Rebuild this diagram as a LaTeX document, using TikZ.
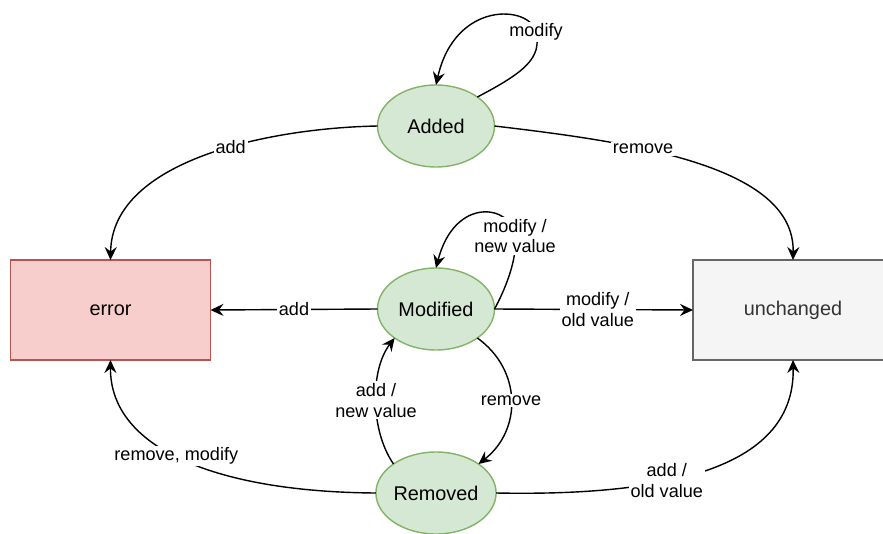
\documentclass[tikz,border=0pt]{standalone}
\usepackage{fontspec}
\setmainfont{Liberation Sans}
\usetikzlibrary{arrows.meta, shapes.geometric}

\definecolor{stategreen}{HTML}{D5E8D4}
\definecolor{stategreenline}{HTML}{82B366}
\definecolor{errorred}{HTML}{F8CECC}
\definecolor{errorredline}{HTML}{B85450}
\definecolor{restgray}{HTML}{F5F5F5}
\definecolor{restgrayline}{HTML}{666666}
\definecolor{resttext}{HTML}{333333}

\begin{document}
\begin{tikzpicture}[x=0.02cm, y=-0.02cm,
        state/.style={ellipse, draw=stategreenline, fill=stategreen, line width=0.8pt, minimum width=2.34cm, minimum height=1.64cm, inner sep=0pt, outer sep=0pt, font=\fontsize{11.3}{13.4}\selectfont},
        result/.style={rectangle, line width=0.8pt, minimum width=4cm, minimum height=2cm, inner sep=0pt, outer sep=0pt, font=\fontsize{11.3}{13.4}\selectfont},
        arrow/.style={-{Stealth[length=2.6mm, width=2.4mm, inset=0.9mm]}, line width=0.8pt},
        edgelabel/.style={fill=white, inner sep=1pt, align=center, font=\fontsize{10.3}{11.9}\selectfont}
    ]
        \useasboundingbox (0,0) rectangle (883,534);

        % The three states in the middle column
        \node[state] (added) at (436,126) {Added};
        \node[state] (modified) at (436,309) {Modified};
        \node[state] (removed) at (436,493) {Removed};

        % Left box - error
        \node[result, draw=errorredline, fill=errorred] (error) at (110.5,310) {error};

        % Right box - unchanged
        \node[result, draw=restgrayline, fill=restgray, text=resttext] (unchanged) at (793,310) {unchanged};

        % Loop on Added
        \draw[arrow] (added.north east) .. controls (525,72) and (542,58) .. (536,32) node[edgelabel] {modify}
            .. controls (530,5) and (455,0) .. (added.north);

        % Arrow from Added to error
        \draw[arrow] (added.west) .. controls (270,128) and (112,160) .. node[edgelabel, pos=0.42] {add} (error.north);

        % Arrow from Added to unchanged
        \draw[arrow] (added.east) .. controls (630,142) and (795,165) .. node[edgelabel, pos=0.36] {remove} (unchanged.north);

        % Loop on Modified
        \draw[arrow] (modified.east) .. controls (505,290) and (518,258) .. (515,236) node[edgelabel] {modify /\\new value}
            .. controls (512,205) and (455,195) .. (modified.north);

        % Arrow from Modified to error
        \draw[arrow] (modified.west) -- node[edgelabel] {add} (error.east);

        % Arrow from Modified to unchanged
        \draw[arrow] (modified.east) -- node[edgelabel, pos=0.52] {modify /\\old value} (unchanged.west);

        % Arrow from Modified to Removed
        \draw[arrow] (modified.south east) .. controls (522,370) and (522,430) .. node[edgelabel] {remove} (removed.north east);

        % Arrow from Removed back to Modified
        \draw[arrow] (removed.north west) .. controls (370,430) and (370,370) .. node[edgelabel] {add /\\new value} (modified.south west);

        % Arrow from Removed to error
        \draw[arrow] (removed.west) .. controls (220,492) and (110,450) .. node[edgelabel, pos=0.53] {remove, modify} (error.south);

        % Arrow from Removed to unchanged
        \draw[arrow] (removed.east) .. controls (700,497) and (795,455) .. node[edgelabel, pos=0.34] {add /\\old value} (unchanged.south);

    \end{tikzpicture}
\end{document}
